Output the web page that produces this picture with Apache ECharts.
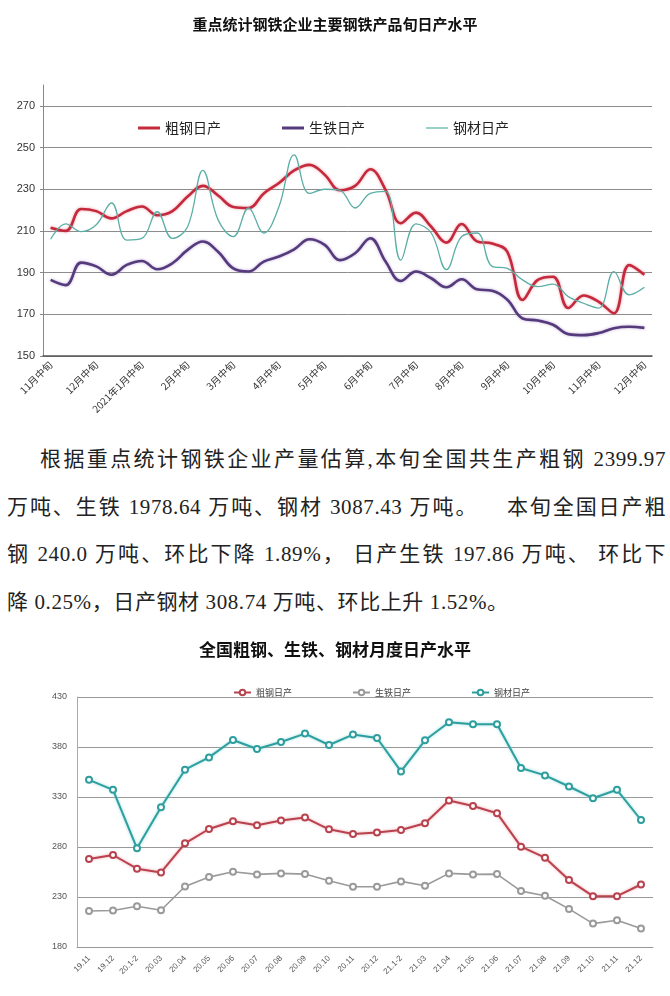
<!DOCTYPE html>
<html style="height: 100%">
<head>
    <meta charset="utf-8">
    <script type="text/javascript" src="https://cdn.jsdelivr.net/npm/echarts@6/dist/echarts.min.js"></script>
    <style>
        body { margin: 0; background: #fff; width: 670px; height: 996px; position: relative; overflow: hidden; }
        .ln { position: absolute; font-family: "Liberation Serif", "Noto Sans CJK SC", serif; font-size: 21px; color: #222; white-space: nowrap; letter-spacing: 0.6px; }
        .jf { text-align: justify; text-align-last: justify; white-space: normal; }
    </style>
</head>
<body>
<div id="top" style="position:absolute;left:0;top:0;width:670px;height:420px"></div>
<div class="ln jf" style="left:40px;top:442px;width:626px">根据重点统计钢铁企业产量估算,本旬全国共生产粗钢 2399.97</div>
<div class="ln jf" style="left:7px;top:490px;width:659px">万吨、生铁 1978.64 万吨、钢材 3087.43 万吨。&nbsp;&nbsp;&nbsp; 本旬全国日产粗</div>
<div class="ln jf" style="left:7px;top:537px;width:659px">钢 240.0 万吨、环比下降 1.89%， 日产生铁 197.86 万吨、 环比下</div>
<div class="ln" style="left:7px;top:585px">降 0.25%，日产钢材 308.74 万吨、环比上升 1.52%。</div>
<div id="bottom" style="position:absolute;left:0;top:620px;width:670px;height:376px"></div>
<script type="text/javascript">
    // 旬度数据 (2020年11月中旬 - 2021年12月中旬)
    var xunLabels = ['11月中旬', '11月下旬', '12月上旬', '12月中旬', '12月下旬', '1月上旬', '2021年1月中旬', '1月下旬',
        '2月上旬', '2月中旬', '2月下旬', '3月上旬', '3月中旬', '3月下旬', '4月上旬', '4月中旬', '4月下旬',
        '5月上旬', '5月中旬', '5月下旬', '6月上旬', '6月中旬', '6月下旬', '7月上旬', '7月中旬', '7月下旬',
        '8月上旬', '8月中旬', '8月下旬', '9月上旬', '9月中旬', '9月下旬', '10月上旬', '10月中旬', '10月下旬',
        '11月上旬', '11月中旬', '11月下旬', '12月上旬', '12月中旬'];
    var xunSteel = [211.5, 210, 220.5, 219.5, 216, 219.5, 221.7, 217.5, 219.5, 226.5, 231.6, 227, 221.5, 221, 228,
        233, 239, 241.7, 237, 229.5, 231.6, 239.6, 229.7, 213.7, 218.8, 212, 204.4, 213.3, 205, 204, 200, 176.9,
        186.5, 188, 173, 179, 176, 170.5, 193.6, 189];
    var xunIron = [186.5, 184, 194.8, 193, 189, 193.7, 195.6, 191.6, 194.5, 200.9, 204.9, 200, 192, 190.5, 195.3,
        197.7, 201.2, 206, 203.3, 196, 199.3, 206.5, 195.3, 186, 190.5, 187.3, 183, 186.8, 182, 181.3, 177, 168,
        167, 165, 160.5, 160, 161, 163.3, 164, 163.5];
    var xunProduct = [206, 213.4, 209.7, 213, 223.4, 205.6, 206.4, 219.2, 206.4, 212, 239, 215.3, 207.3, 221, 209,
        221.7, 246.5, 228, 230, 229.5, 221, 228, 229, 196, 213.4, 209, 191.4, 207.3, 209, 193, 192, 186.5,
        183.3, 184.5, 178.5, 175.3, 173, 190.5, 179.3, 183];

    // 月度数据
    var monthLabels = ['19.11', '19.12', '20.1-2', '20.03', '20.04', '20.05', '20.06', '20.07', '20.08', '20.09',
        '20.10', '20.11', '20.12', '21.1-2', '21.03', '21.04', '21.05', '21.06', '21.07', '21.08', '21.09',
        '21.10', '21.11', '21.12'];
    var monthSteel = [268, 272, 258.3, 254.6, 283.7, 298, 305.7, 301.7, 306.4, 309.4, 297.7, 293, 294.4, 297,
        303.7, 326.5, 321, 313.8, 280.3, 269.3, 246.9, 230.8, 230.8, 242.5];
    var monthIron = [216, 216.5, 220.8, 216.8, 240.5, 249.9, 255.2, 252.6, 253.6, 252.9, 246.2, 240.2, 240.2,
        245.6, 241.2, 253.6, 252.6, 252.9, 235.9, 231.2, 218.1, 203.4, 206.8, 198.4];
    var monthProduct = [347.2, 337.2, 278.7, 319.8, 357.3, 369.6, 387, 378, 385, 393.4, 382, 392.4, 389, 355.6,
        386.7, 404.7, 402.7, 402.7, 359, 351.6, 340.5, 328.8, 337.2, 307];

    var cjk = '"Noto Sans CJK SC", sans-serif';

    var topChart = echarts.init(document.getElementById('top'));
    topChart.setOption({
        animation: false,
        title: {
            text: '重点统计钢铁企业主要钢铁产品旬日产水平',
            left: 'center', top: 12,
            textStyle: { fontFamily: cjk, fontSize: 15, fontWeight: 'bold', color: '#111' }
        },
        legend: {
            left: 133, top: 116,
            itemWidth: 22, itemHeight: 3, itemGap: 61,
            textStyle: { fontFamily: cjk, fontSize: 14, color: '#222' },
            data: [
                { name: '粗钢日产', icon: 'rect' },
                { name: '生铁日产', icon: 'rect' },
                { name: '钢材日产', icon: 'path://M0,0h22v1.2h-22z' }
            ]
        },
        grid: { left: 43, right: 18, top: 85, height: 271 },
        xAxis: {
            type: 'category',
            data: xunLabels,
            boundaryGap: true,
            axisLine: { lineStyle: { color: '#555', width: 1.5 } },
            axisTick: { interval: 0, length: 4, lineStyle: { color: '#555' } },
            axisLabel: { interval: 2, rotate: 45, fontSize: 10, color: '#333', fontFamily: cjk, margin: 7 }
        },
        yAxis: {
            type: 'value', min: 150, max: 280, interval: 20,
            axisLine: { show: true, lineStyle: { color: '#888' } },
            axisTick: { show: true, length: 3, lineStyle: { color: '#888' } },
            axisLabel: { fontSize: 11, color: '#333', fontFamily: 'Liberation Sans', margin: 8, showMaxLabel: false },
            splitLine: { showMaxLine: false, lineStyle: { color: '#8c8c8c', width: 1 } }
        },
        series: [
            {
                name: '粗钢日产', type: 'line', data: xunSteel, smooth: 0.4, symbol: 'none',
                lineStyle: { color: '#c42a3c', width: 2.6, shadowColor: 'rgba(230,120,140,0.7)', shadowBlur: 3 },
                itemStyle: { color: '#c42a3c' }
            },
            {
                name: '生铁日产', type: 'line', data: xunIron, smooth: 0.4, symbol: 'none',
                lineStyle: { color: '#553a7c', width: 2.6, shadowColor: 'rgba(150,120,190,0.6)', shadowBlur: 3 },
                itemStyle: { color: '#553a7c' }
            },
            {
                name: '钢材日产', type: 'line', data: xunProduct, smooth: 0.4, symbol: 'none',
                lineStyle: { color: '#5aaea6', width: 1.3 },
                itemStyle: { color: '#5aaea6' }
            }
        ]
    });

    var bottomChart = echarts.init(document.getElementById('bottom'));
    bottomChart.setOption({
        animation: false,
        title: {
            text: '全国粗钢、生铁、钢材月度日产水平',
            left: 'center', top: 16,
            textStyle: { fontFamily: cjk, fontSize: 17, fontWeight: 'bold', color: '#111' }
        },
        legend: {
            left: 228, top: 63,
            itemWidth: 17, itemHeight: 7, itemGap: 60,
            textStyle: { fontFamily: cjk, fontSize: 9, color: '#444' },
            data: ['粗钢日产', '生铁日产', '钢材日产']
        },
        grid: { left: 77, right: 17, top: 77, height: 250 },
        xAxis: {
            type: 'category',
            data: monthLabels,
            boundaryGap: true,
            axisLine: { lineStyle: { color: '#999' } },
            axisTick: { interval: 0, length: 4, lineStyle: { color: '#999' } },
            axisLabel: { interval: 0, rotate: 45, fontSize: 8, color: '#555', fontFamily: 'Liberation Sans', margin: 10 }
        },
        yAxis: {
            type: 'value', min: 180, max: 430, interval: 50,
            axisLine: { show: true, lineStyle: { color: '#aaa' } },
            axisTick: { show: false },
            axisLabel: { fontSize: 9, color: '#555', fontFamily: 'Liberation Sans', margin: 10 },
            splitLine: { lineStyle: { color: '#999', width: 1 } }
        },
        series: [
            {
                name: '粗钢日产', type: 'line', data: monthSteel, symbol: 'emptyCircle', symbolSize: 6,
                lineStyle: { color: '#b8434f', width: 2, shadowColor: 'rgba(235,140,150,0.8)', shadowBlur: 3 },
                itemStyle: { color: '#b8434f', borderWidth: 1 }
            },
            {
                name: '生铁日产', type: 'line', data: monthIron, symbol: 'emptyCircle', symbolSize: 6,
                lineStyle: { color: '#9a9a9a', width: 1.6 },
                itemStyle: { color: '#9a9a9a', borderWidth: 1 }
            },
            {
                name: '钢材日产', type: 'line', data: monthProduct, symbol: 'emptyCircle', symbolSize: 6,
                lineStyle: { color: '#2f9e9e', width: 2, shadowColor: 'rgba(120,210,210,0.8)', shadowBlur: 3 },
                itemStyle: { color: '#2f9e9e', borderWidth: 1 }
            }
        ]
    });
</script>
</body>
</html>
